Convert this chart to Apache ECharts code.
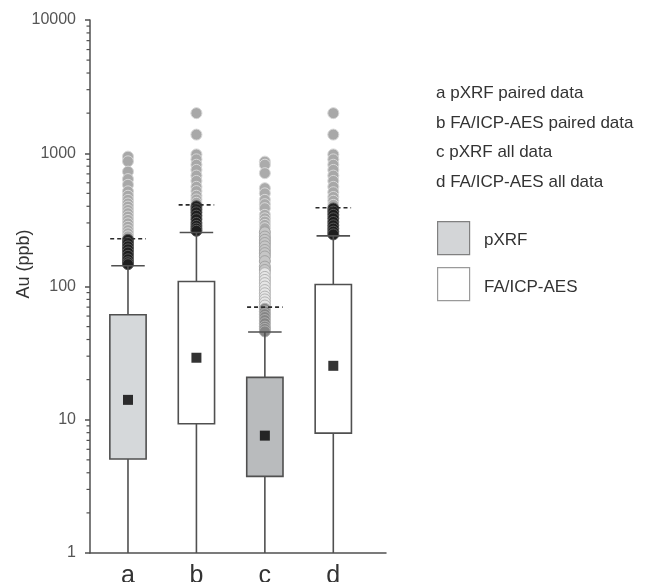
<!DOCTYPE html>
<html><head><meta charset="utf-8">
<script src="https://cdn.jsdelivr.net/npm/echarts@6/dist/echarts.min.js"></script>
<style>html,body{margin:0;padding:0;background:#fff}#c{width:645px;height:582px}</style>
</head><body><div id="c"></div>
<script>
// ---------- data ----------
const categories = ['a', 'b', 'c', 'd'];
const legendLabels = ['a pXRF paired data', 'b FA/ICP-AES paired data', 'c pXRF all data', 'd FA/ICP-AES all data'];
const methodLabels = ['pXRF', 'FA/ICP-AES'];
const yTickValues = [1, 10, 100, 1000, 10000];
const minorTickValues = [2,3,4,5,6,7,8,9, 20,30,40,50,60,70,80,90, 200,300,400,500,600,700,800,900, 2000,3000,4000,5000,6000,7000,8000,9000];
const whiskerLow  = [1, 1, 1, 1];
const q1          = [5.07, 9.33, 3.76, 7.94];
const q3          = [61.3, 109, 20.8, 103.5];
const whiskerHigh = [143, 254, 45.5, 240];
const dashedLimit = [228, 410, 70, 390];
const means       = [14.1, 29.2, 7.6, 25.4];
// outliers (values in ppb)
const aFar  = [943, 870, 728, 640, 580, 518, 480, 447, 420, 398, 375, 355, 335, 316, 298, 281, 265, 251, 238];
const aNear = [224, 212, 200, 190, 180, 170, 160, 152, 147];
const bFar  = [2000, 1380, 980, 900, 820, 750, 680, 620, 560, 520, 480, 450, 425];
const bNear = [400, 380, 360, 340, 320, 300, 285, 272, 262];
const cFar  = [865, 820, 709, 547, 500, 447, 415, 387, 345, 325, 307, 290, 274];
const cMid  = [255, 237, 224, 212, 200, 188, 178, 168, 155, 141, 133];
const cLow  = [126, 118, 112, 106, 100, 94, 89, 84, 80, 76, 72];
const cNear = [68, 65, 62, 59, 56, 53, 50, 48, 46];
const dFar  = [2000, 1380, 980, 900, 820, 750, 680, 620, 560, 510, 470, 440, 410];
const dNear = [385, 365, 345, 325, 305, 288, 272, 258, 246];

// ---------- styles ----------
const FONT = 'Liberation Sans, Arial, Helvetica, sans-serif';
const boxFill = ['#d5d8da', '#ffffff', '#b9bbbd', '#ffffff'];
const lineCol = '#505050';
const X_MIN = -0.555, X_MAX = 3.77;

const chart = echarts.init(document.getElementById('c'), null, {renderer: 'canvas'});

const boxData = categories.map((c, i) => [i, whiskerLow[i], q1[i], q3[i], whiskerHigh[i], dashedLimit[i]]);
const pts = (idx, arr) => arr.map(v => [idx, v]);

function outlierSeries(data, fill, border, z) {
  return {
    type: 'scatter', data: data, symbol: 'circle', symbolSize: 11, z: z, silent: true,
    itemStyle: {color: fill, borderColor: border, borderWidth: 1, opacity: 1}
  };
}

const option = {
  backgroundColor: '#fff',
  animation: false,
  grid: {left: 90, top: 20, right: 259, bottom: 29, containLabel: false, outerBoundsMode: 'none'},
  xAxis: {
    type: 'value', min: X_MIN, max: X_MAX,
    splitLine: {show: false},
    axisLine: {show: true, onZero: false, lineStyle: {color: lineCol, width: 1.5}},
    axisTick: {show: false},
    axisLabel: {
      customValues: [0, 1, 2, 3],
      formatter: v => categories[Math.round(v)] || '',
      fontSize: 25, color: '#333', fontFamily: FONT, margin: 11
    }
  },
  yAxis: {
    type: 'log', logBase: 10, min: 1, max: 10000,
    name: 'Au (ppb)', nameLocation: 'middle', nameGap: 57, nameRotate: 90, nameMoveOverlap: false,
    nameTextStyle: {fontSize: 18, color: '#333', fontFamily: FONT, padding: [0, 0, 0, 45]},
    splitLine: {show: false},
    axisLine: {show: true, onZero: false, lineStyle: {color: lineCol, width: 1.5}},
    axisTick: {show: true, inside: false, length: 5, lineStyle: {color: lineCol, width: 1.5}},
    minorTick: {show: false},
    axisLabel: {
      customValues: yTickValues,
      formatter: v => String(Math.round(v)),
      fontSize: 16, color: '#555', fontFamily: FONT, margin: 14
    }
  },
  series: [
    // minor ticks on log axis
    {
      type: 'custom', silent: true, z: 5,
      data: minorTickValues.map(v => [X_MIN, v]),
      renderItem: (params, api) => {
        const p = api.coord([X_MIN, api.value(1)]);
        return {type: 'line', shape: {x1: p[0] - 3.5, y1: p[1], x2: p[0], y2: p[1]},
                style: {stroke: lineCol, lineWidth: 1.2}};
      },
      clip: false
    },
    // outliers
    outlierSeries(pts(0, aFar), '#a8a8a8', '#d6d6d6', 2),
    outlierSeries(pts(0, aNear), '#1e1e1e', '#5a5a5a', 2),
    outlierSeries(pts(1, bFar), '#a8a8a8', '#d6d6d6', 2),
    outlierSeries(pts(1, bNear), '#1e1e1e', '#5a5a5a', 2),
    outlierSeries(pts(2, cFar), '#ababab', '#d9d9d9', 2),
    outlierSeries(pts(2, cMid), '#c6c6c6', '#a3a3a3', 2),
    outlierSeries(pts(2, cLow), '#e6e6e6', '#b3b3b3', 2),
    outlierSeries(pts(2, cNear), '#858585', '#b0b0b0', 2),
    outlierSeries(pts(3, dFar), '#a8a8a8', '#d6d6d6', 2),
    outlierSeries(pts(3, dNear), '#1e1e1e', '#5a5a5a', 2),
    // boxes
    {
      type: 'custom', silent: true, z: 3,
      data: boxData,
      renderItem: (params, api) => {
        const i = api.value(0);
        const pLow = api.coord([i, api.value(1)]);
        const pQ1 = api.coord([i, api.value(2)]);
        const pQ3 = api.coord([i, api.value(3)]);
        const pHigh = api.coord([i, api.value(4)]);
        const pDash = api.coord([i, api.value(5)]);
        const hw = api.coord([i + 0.265, api.value(2)])[0] - pQ1[0];
        const cw = api.coord([i + 0.245, api.value(2)])[0] - pQ1[0];
        const dw = api.coord([i + 0.26, api.value(2)])[0] - pQ1[0];
        const x = pQ1[0];
        const ls = {stroke: lineCol, lineWidth: 1.6};
        return {
          type: 'group',
          children: [
            {type: 'line', shape: {x1: x, y1: pLow[1], x2: x, y2: pQ1[1]}, style: ls},
            {type: 'line', shape: {x1: x, y1: pQ3[1], x2: x, y2: pHigh[1]}, style: ls},
            {type: 'line', shape: {x1: x - cw, y1: pHigh[1], x2: x + cw, y2: pHigh[1]}, style: ls},
            {type: 'line', shape: {x1: x - dw, y1: pDash[1], x2: x + dw, y2: pDash[1]},
             style: {stroke: '#2a2a2a', lineWidth: 1.6, lineDash: [4, 3]}},
            {type: 'rect', shape: {x: x - hw, y: pQ3[1], width: 2 * hw, height: pQ1[1] - pQ3[1]},
             style: {fill: boxFill[i], stroke: lineCol, lineWidth: 1.6}}
          ]
        };
      }
    },
    // means
    {
      type: 'scatter', z: 6, silent: true,
      data: means.map((v, i) => [i, v]),
      symbol: 'rect', symbolSize: 10,
      itemStyle: {color: '#000'}
    }
  ],
  graphic: [
    ...legendLabels.map((t, k) => ({
      type: 'text', left: 436, top: 85 + k * 29.6,
      style: {text: t, fontSize: 17, fill: '#333', fontFamily: FONT}
    })),
    {type: 'rect', left: 437, top: 221, shape: {width: 32, height: 33},
     style: {fill: '#d3d5d7', stroke: '#808080', lineWidth: 1.2}},
    {type: 'rect', left: 437, top: 267, shape: {width: 32, height: 33},
     style: {fill: '#ffffff', stroke: '#9a9a9a', lineWidth: 1.2}},
    {type: 'text', left: 484, top: 232, style: {text: methodLabels[0], fontSize: 17, fill: '#333', fontFamily: FONT}},
    {type: 'text', left: 484, top: 279, style: {text: methodLabels[1], fontSize: 17, fill: '#333', fontFamily: FONT}}
  ]
};
chart.setOption(option);
</script>
</body></html>
